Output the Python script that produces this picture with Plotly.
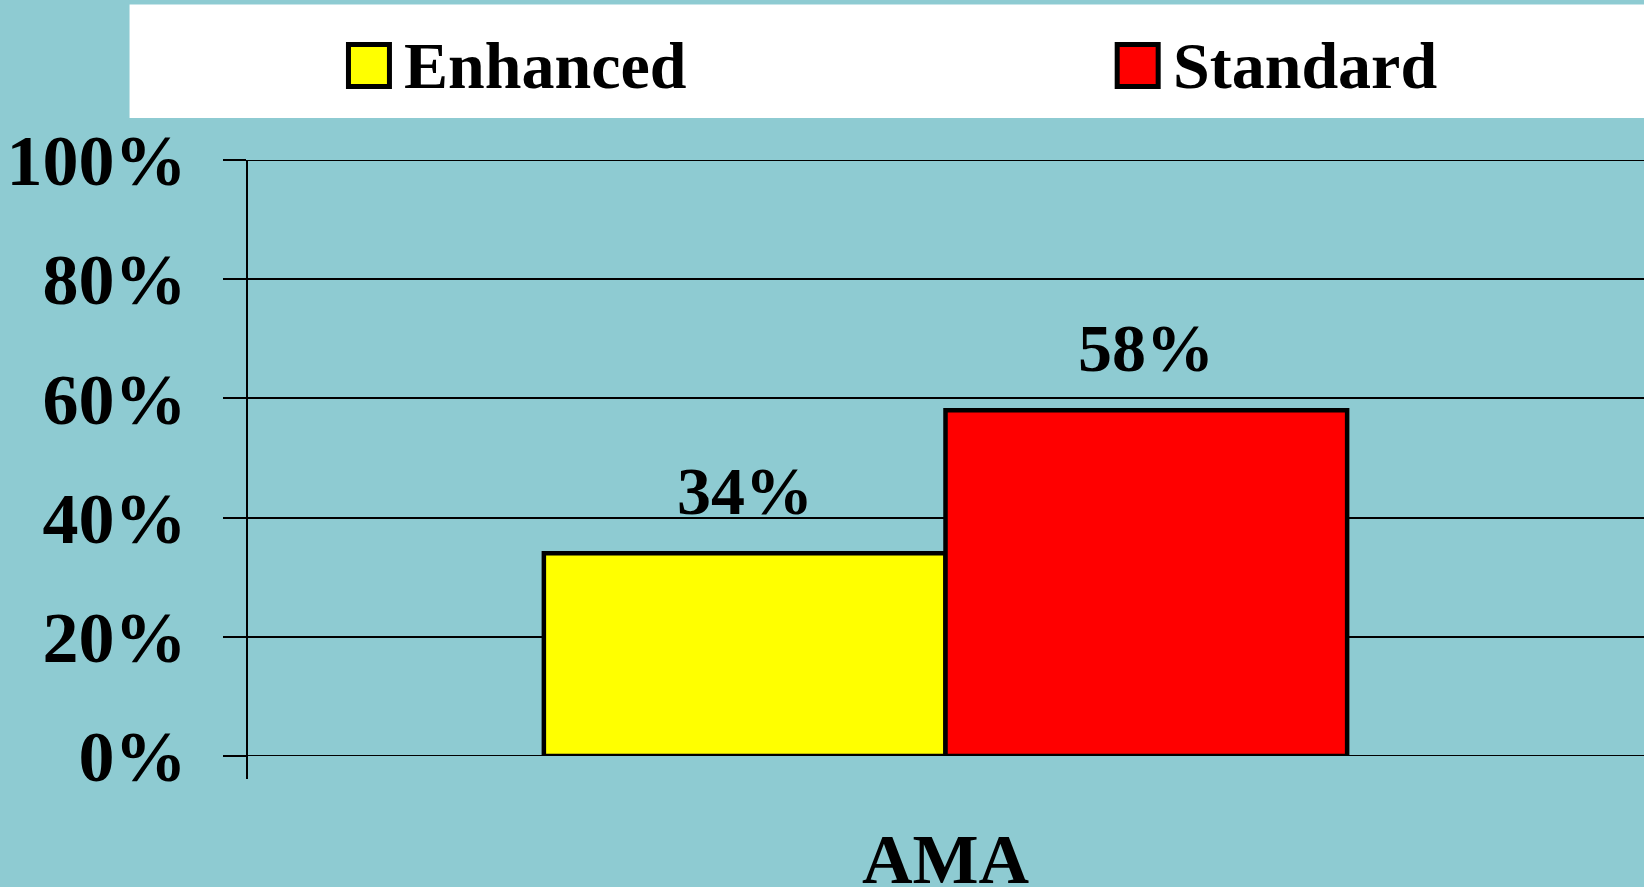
import plotly.graph_objects as go

# Data
categories = ["AMA"]
series_names = ["Enhanced", "Standard"]
enhanced_values = [34]
standard_values = [58]
series_colors = ["#FFFF00", "#FF0000"]
y_tick_values = [0, 20, 40, 60, 80, 100]
y_tick_labels = ["0%", "20%", "40%", "60%", "80%", "100%"]

BG = "#8ECBD2"
FONT = "Liberation Serif"

PLOT_L, PLOT_T, PLOT_W, PLOT_H = 246.5, 160.4, 1397.5, 595.6


def px_x(px):
    return (px - PLOT_L) / PLOT_W


def px_y(py):
    return 1 - (py - PLOT_T) / PLOT_H


fig = go.Figure()
for name, vals, col in zip(series_names, [enhanced_values, standard_values], series_colors):
    fig.add_trace(go.Bar(
        name=name, x=categories, y=vals,
        marker=dict(color=col, line=dict(color="black", width=4.5)),
        showlegend=False,
    ))

# value labels above each bar
half = PLOT_W * (1 - 0.425) / 4
for i, vals in enumerate([enhanced_values, standard_values]):
    for c, v in zip(categories, vals):
        fig.add_annotation(
            x=c, y=v, text=f"<b>{v}%</b>", showarrow=False,
            xanchor="center", yanchor="bottom",
            xshift=(-half if i == 0 else half), yshift=22,
            font=dict(family=FONT, size=68, color="black"),
        )

# legend panel
shapes = [
    dict(type="rect", xref="paper", yref="paper", x0=px_x(129), x1=1.0,
         y0=px_y(118.5), y1=px_y(5), fillcolor="white", line=dict(width=0), layer="below"),
]
legend_items = [(348, series_colors[0], series_names[0]), (1117, series_colors[1], series_names[1])]
for x0, col, name in legend_items:
    shapes.append(dict(type="rect", xref="paper", yref="paper",
                       x0=px_x(x0), x1=px_x(x0 + 41),
                       y0=px_y(87), y1=px_y(45),
                       fillcolor=col, line=dict(color="black", width=5)))
    fig.add_annotation(xref="paper", yref="paper", x=px_x(x0 + 54),
                       y=px_y(66), text=f"<b>{name}</b>", showarrow=False,
                       xanchor="left", yanchor="middle",
                       font=dict(family=FONT, size=66, color="black"))

# horizontal gridlines at the range edges
for t in (y_tick_values[0], y_tick_values[-1]):
    shapes.append(dict(type="line", xref="x domain", yref="y", x0=0, x1=1,
                       y0=t, y1=t, line=dict(color="black", width=2), layer="below"))

# vertical axis line extending slightly below zero
shapes.append(dict(type="line", xref="x domain", yref="y domain", x0=0, x1=0,
                   y0=-23 / PLOT_H, y1=1, line=dict(color="black", width=2)))

fig.update_layout(
    width=1644, height=887,
    paper_bgcolor=BG, plot_bgcolor=BG,
    margin=dict(l=PLOT_L, r=0, t=PLOT_T, b=887 - PLOT_T - PLOT_H),
    barmode="group", bargap=0.425, bargroupgap=0,
    shapes=shapes,
    font=dict(family=FONT, color="black"),
)
fig.update_xaxes(
    showgrid=False, showline=False, zeroline=False, ticks="",
    tickfont=dict(family=FONT, size=70, color="black"),
    ticktext=[f"<b>{c}</b>" for c in categories], tickvals=categories,
    ticklabelstandoff=56, automargin=False,
)
fig.update_yaxes(
    range=[0, 100], tickvals=y_tick_values,
    ticktext=[f"<b>{t}</b>" for t in y_tick_labels],
    showgrid=True, gridcolor="black", gridwidth=2,
    zeroline=False, showline=False,
    ticks="outside", ticklen=23, tickwidth=2, tickcolor="black",
    tickfont=dict(family=FONT, size=72, color="black"),
    ticklabelstandoff=22, automargin=False,
)

fig.write_html("out.html")
